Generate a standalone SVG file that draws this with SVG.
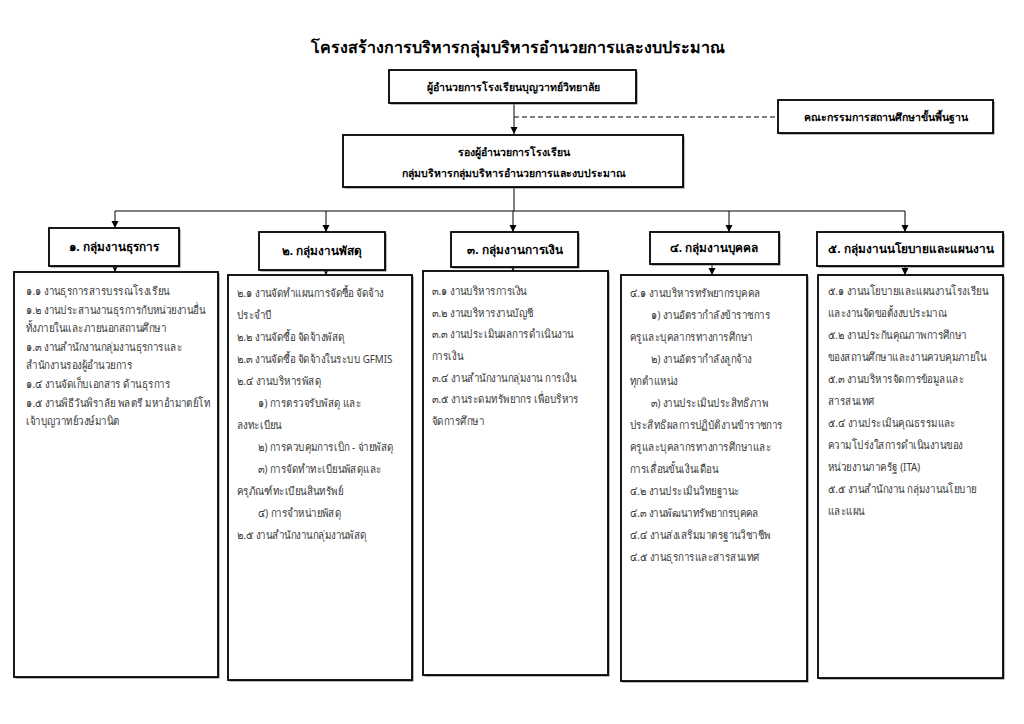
<svg xmlns="http://www.w3.org/2000/svg" width="1024" height="724" viewBox="0 0 1024 724">
<defs>
<marker id="arr" markerWidth="8" markerHeight="8" refX="7" refY="4" orient="auto" markerUnits="userSpaceOnUse">
<path d="M0,0.5 L7,4 L0,7.5 Z" fill="#000"/>
</marker>
<style>
.box{fill:#fff;stroke:#000;stroke-width:1.8}
.sh{fill:#777;stroke:none}
.ttl{font-family:"Noto Sans","DejaVu Sans",sans-serif;font-size:16px;font-weight:bold;fill:#000;text-anchor:middle}
.hd{font-family:"Noto Sans","DejaVu Sans",sans-serif;font-size:11.8px;font-weight:bold;fill:#000;text-anchor:middle}
.hs{font-family:"Noto Sans","DejaVu Sans",sans-serif;font-size:10.5px;font-weight:bold;fill:#000;text-anchor:middle}
.tx{font-family:"Noto Sans","DejaVu Sans",sans-serif;font-size:11.5px;fill:#3a3a3a}
.ln{fill:none;stroke:#000;stroke-width:1}
.dash{fill:none;stroke:#000;stroke-width:1;stroke-dasharray:5,3}
</style>
</defs>
<rect width="1024" height="724" fill="#fff"/>
<text class="ttl" x="518" y="53">โครงสร้างการบริหารกลุ่มบริหารอำนวยการและงบประมาณ</text>

<g id="connectors">
<line class="ln" x1="514" y1="103" x2="514" y2="134" marker-end="url(#arr)"/>
<line class="dash" x1="514" y1="117" x2="778" y2="117"/>
<line class="ln" x1="514" y1="187" x2="514" y2="211"/>
<line class="ln" x1="115" y1="211" x2="905" y2="211"/>
<line class="ln" x1="115" y1="211" x2="115" y2="228" marker-end="url(#arr)"/>
<line class="ln" x1="326" y1="211" x2="326" y2="232" marker-end="url(#arr)"/>
<line class="ln" x1="513" y1="211" x2="513" y2="232" marker-end="url(#arr)"/>
<line class="ln" x1="729" y1="211" x2="729" y2="232" marker-end="url(#arr)"/>
<line class="ln" x1="905" y1="211" x2="905" y2="232" marker-end="url(#arr)"/>
<line class="ln" x1="115" y1="266" x2="115" y2="272" marker-end="url(#arr)"/>
<line class="ln" x1="326" y1="270" x2="326" y2="275" marker-end="url(#arr)"/>
<line class="ln" x1="513" y1="267" x2="513" y2="271" marker-end="url(#arr)"/>
<line class="ln" x1="712" y1="264" x2="712" y2="275" marker-end="url(#arr)"/>
<line class="ln" x1="905" y1="266" x2="905" y2="275" marker-end="url(#arr)"/>
</g>

<g id="director">
<rect class="sh" x="390.5" y="71.5" width="247" height="33"/>
<rect class="box" x="389" y="70" width="247" height="33"/>
<text class="hs" x="513" y="91">ผู้อำนวยการโรงเรียนบุญวาทย์วิทยาลัย</text>
</g>
<g id="committee">
<rect class="sh" x="779.5" y="101.5" width="215" height="33"/>
<rect class="box" x="778" y="100" width="215" height="33"/>
<text class="hs" x="886" y="121">คณะกรรมการสถานศึกษาขั้นพื้นฐาน</text>
</g>
<g id="deputy">
<rect class="sh" x="344.5" y="136.5" width="340" height="52"/>
<rect class="box" x="343" y="135" width="340" height="52"/>
<text class="hs" x="514" y="156">รองผู้อำนวยการโรงเรียน</text>
<text class="hs" x="514" y="177">กลุ่มบริหารกลุ่มบริหารอำนวยการและงบประมาณ</text>
</g>

<g id="h1"><rect class="sh" x="50.5" y="229.5" width="130" height="38"/><rect class="box" x="49" y="228" width="130" height="38"/><text class="hd" x="114" y="251">๑. กลุ่มงานธุรการ</text></g>
<g id="h2"><rect class="sh" x="260.5" y="233.5" width="126" height="38"/><rect class="box" x="259" y="232" width="126" height="38"/><text class="hd" x="322" y="255">๒. กลุ่มงานพัสดุ</text></g>
<g id="h3"><rect class="sh" x="452.5" y="233.5" width="127" height="35"/><rect class="box" x="451" y="232" width="127" height="35"/><text class="hd" x="515" y="254">๓. กลุ่มงานการเงิน</text></g>
<g id="h4"><rect class="sh" x="651.5" y="233.5" width="129" height="32"/><rect class="box" x="650" y="232" width="129" height="32"/><text class="hd" x="714" y="252">๔. กลุ่มงานบุคคล</text></g>
<g id="h5"><rect class="sh" x="818.5" y="233.5" width="186" height="34"/><rect class="box" x="817" y="232" width="186" height="34"/><text class="hd" x="911" y="253">๕. กลุ่มงานนโยบายและแผนงาน</text></g>

<g id="c1">
<rect class="sh" x="15.5" y="273.5" width="204" height="405"/>
<rect class="box" x="14" y="272" width="204" height="405"/>
<g transform="matrix(0.85,0,0,1,3.9,0)">
<text class="tx" x="26" y="295">๑.๑ งานธุรการสารบรรณโรงเรียน</text>
<text class="tx" x="26" y="313.6">๑.๒ งานประสานงานธุรการกับหน่วยงานอื่น</text>
<text class="tx" x="26" y="332.2">ทั้งภายในและภายนอกสถานศึกษา</text>
<text class="tx" x="26" y="350.8">๑.๓ งานสำนักงานกลุ่มงานธุรการและ</text>
<text class="tx" x="26" y="369.4">สำนักงานรองผู้อำนวยการ</text>
<text class="tx" x="26" y="388">๑.๔ งานจัดเก็บเอกสาร ด้านธุรการ</text>
<text class="tx" x="26" y="406.6">๑.๕ งานพิธีวันพิราลัย พลตรี มหาอำมาตย์โท</text>
<text class="tx" x="26" y="425.2">เจ้าบุญวาทย์วงษ์มานิต</text>
</g>
</g>

<g id="c2">
<rect class="sh" x="229.5" y="276.5" width="184" height="405"/>
<rect class="box" x="228" y="275" width="184" height="405"/>
<g transform="matrix(0.85,0,0,1,35.55,0)">
<text class="tx" x="237" y="297">๒.๑ งานจัดทำแผนการจัดซื้อ จัดจ้าง</text>
<text class="tx" x="237" y="319">ประจำปี</text>
<text class="tx" x="237" y="341">๒.๒ งานจัดซื้อ จัดจ้างพัสดุ</text>
<text class="tx" x="237" y="363">๒.๓ งานจัดซื้อ จัดจ้างในระบบ GFMIS</text>
<text class="tx" x="237" y="385">๒.๔ งานบริหารพัสดุ</text>
<text class="tx" x="261.7" y="407">๑) การตรวจรับพัสดุ และ</text>
<text class="tx" x="237" y="429">ลงทะเบียน</text>
<text class="tx" x="261.7" y="451">๒) การควบคุมการเบิก - จ่ายพัสดุ</text>
<text class="tx" x="261.7" y="473">๓) การจัดทำทะเบียนพัสดุและ</text>
<text class="tx" x="237" y="495">ครุภัณฑ์ทะเบียนสินทรัพย์</text>
<text class="tx" x="261.7" y="517">๔) การจำหน่ายพัสดุ</text>
<text class="tx" x="237" y="539">๒.๕ งานสำนักงานกลุ่มงานพัสดุ</text>
</g>
</g>

<g id="c3">
<rect class="sh" x="424.5" y="272.5" width="185" height="404"/>
<rect class="box" x="423" y="271" width="185" height="404"/>
<g transform="matrix(0.85,0,0,1,64.8,0)">
<text class="tx" x="432" y="295">๓.๑ งานบริหารการเงิน</text>
<text class="tx" x="432" y="316.7">๓.๒ งานบริหารงานบัญชี</text>
<text class="tx" x="432" y="338.4">๓.๓ งานประเมินผลการดำเนินงาน</text>
<text class="tx" x="432" y="360.1">การเงิน</text>
<text class="tx" x="432" y="381.8">๓.๔ งานสำนักงานกลุ่มงาน การเงิน</text>
<text class="tx" x="432" y="403.5">๓.๕ งานระดมทรัพยากร เพื่อบริหาร</text>
<text class="tx" x="432" y="425.2">จัดการศึกษา</text>
</g>
</g>

<g id="c4">
<rect class="sh" x="622.5" y="276.5" width="186" height="406"/>
<rect class="box" x="621" y="275" width="186" height="406"/>
<g transform="matrix(0.85,0,0,1,94.5,0)">
<text class="tx" x="630" y="297">๔.๑ งานบริหารทรัพยากรบุคคล</text>
<text class="tx" x="654.7" y="319">๑) งานอัตรากำลังข้าราชการ</text>
<text class="tx" x="630" y="341">ครูและบุคลากรทางการศึกษา</text>
<text class="tx" x="654.7" y="363">๒) งานอัตรากำลังลูกจ้าง</text>
<text class="tx" x="630" y="385">ทุกตำแหน่ง</text>
<text class="tx" x="654.7" y="407">๓) งานประเมินประสิทธิภาพ</text>
<text class="tx" x="630" y="429">ประสิทธิผลการปฏิบัติงานข้าราชการ</text>
<text class="tx" x="630" y="451">ครูและบุคลากรทางการศึกษาและ</text>
<text class="tx" x="630" y="473">การเลื่อนขั้นเงินเดือน</text>
<text class="tx" x="630" y="495">๔.๒ งานประเมินวิทยฐานะ</text>
<text class="tx" x="630" y="517">๔.๓ งานพัฒนาทรัพยากรบุคคล</text>
<text class="tx" x="630" y="539">๔.๔ งานส่งเสริมมาตรฐานวิชาชีพ</text>
<text class="tx" x="630" y="561">๔.๕ งานธุรการและสารสนเทศ</text>
</g>
</g>

<g id="c5">
<rect class="sh" x="819.5" y="276.5" width="185" height="403"/>
<rect class="box" x="818" y="275" width="185" height="403"/>
<g transform="matrix(0.85,0,0,1,124.2,0)">
<text class="tx" x="828" y="295">๕.๑ งานนโยบายและแผนงานโรงเรียน</text>
<text class="tx" x="828" y="317">และงานจัดขอตั้งงบประมาณ</text>
<text class="tx" x="828" y="339">๕.๒ งานประกันคุณภาพการศึกษา</text>
<text class="tx" x="828" y="361">ของสถานศึกษาและงานควบคุมภายใน</text>
<text class="tx" x="828" y="383">๕.๓ งานบริหารจัดการข้อมูลและ</text>
<text class="tx" x="828" y="405">สารสนเทศ</text>
<text class="tx" x="828" y="427">๕.๔ งานประเมินคุณธรรมและ</text>
<text class="tx" x="828" y="449">ความโปร่งใสการดำเนินงานของ</text>
<text class="tx" x="828" y="471">หน่วยงานภาครัฐ (ITA)</text>
<text class="tx" x="828" y="493">๕.๕ งานสำนักงาน กลุ่มงานนโยบาย</text>
<text class="tx" x="828" y="515">และแผน</text>
</g>
</g>
</svg>
